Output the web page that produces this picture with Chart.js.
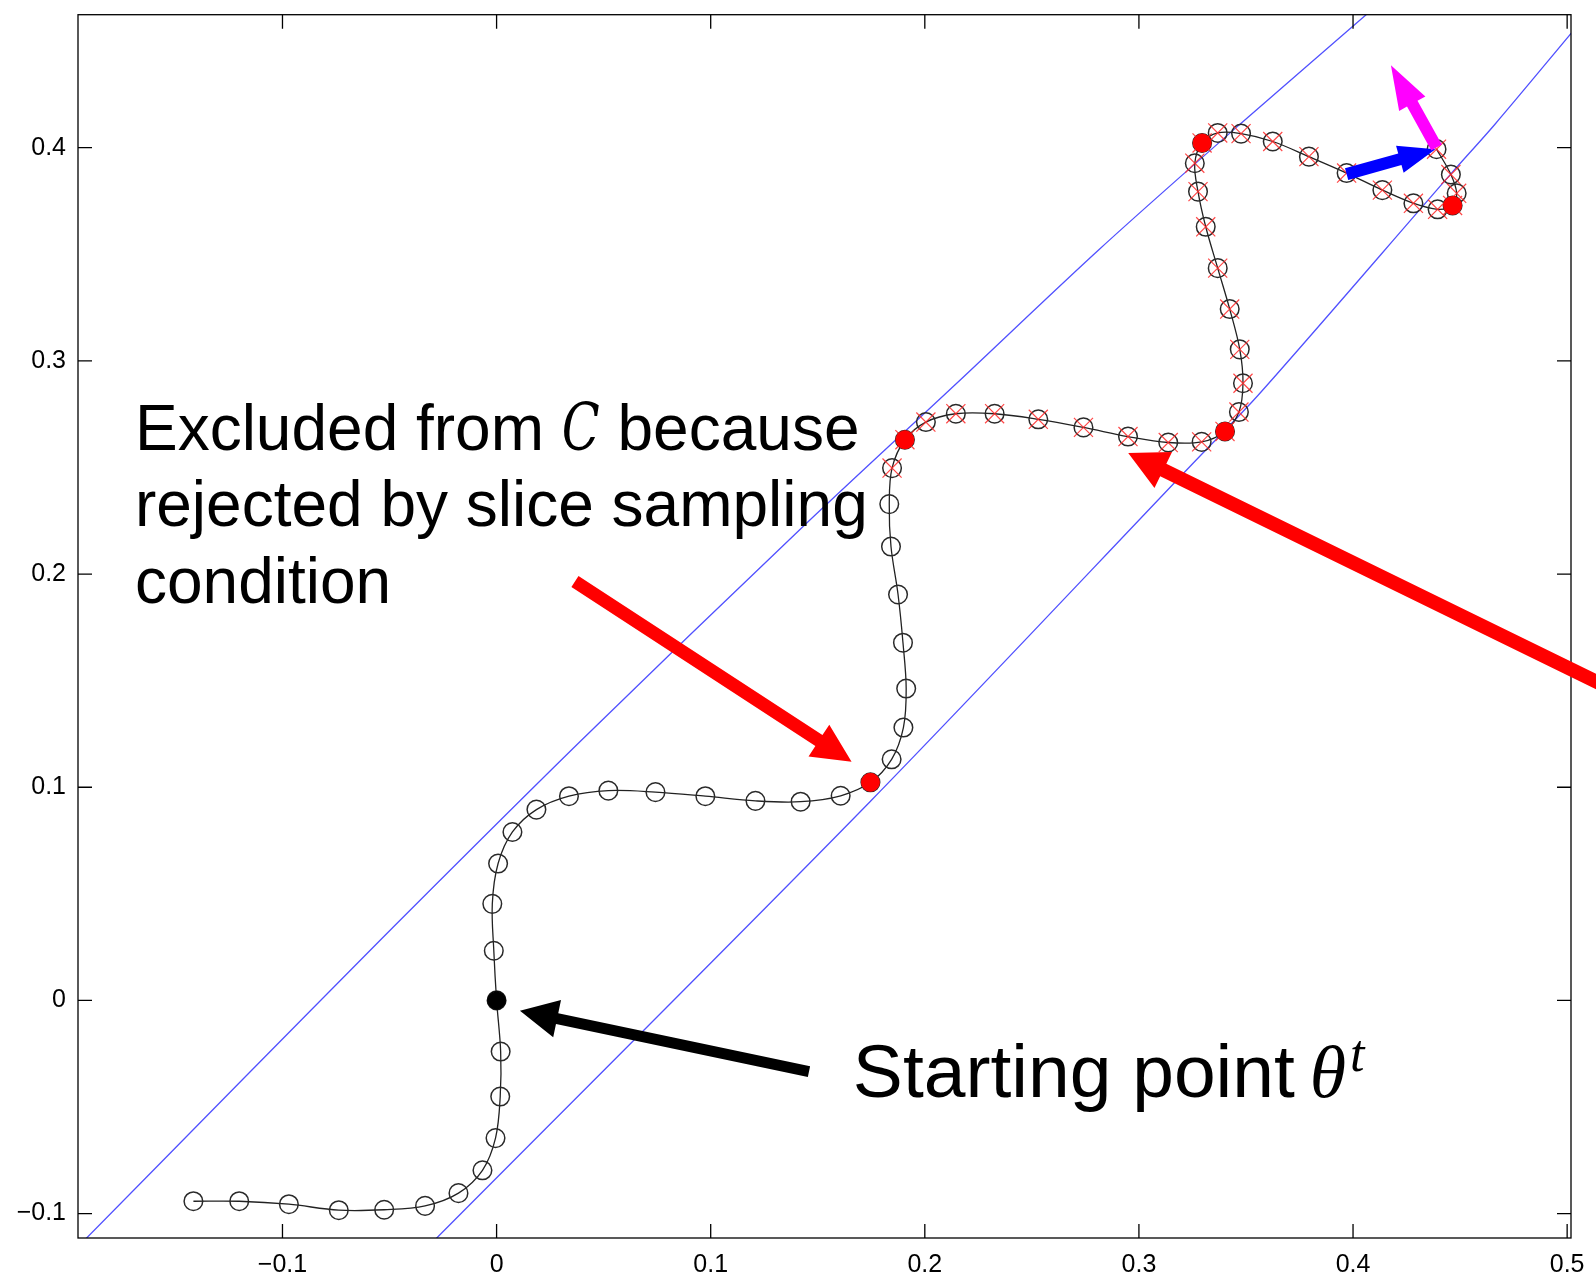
<!DOCTYPE html>
<html><head><meta charset="utf-8">
<script src="https://cdn.jsdelivr.net/npm/chart.js@4.4.1/dist/chart.umd.min.js"></script>
<style>html,body{margin:0;padding:0;background:#fff;overflow:hidden}#wrap{width:1596px;height:1279px}</style>
</head><body><div id="wrap"><canvas id="c" width="1596" height="1279"></canvas></div>
<script>
// ---- trajectory samples (x, y) in order ----
const pathX = [-0.1416,-0.1202,-0.0970,-0.0737,-0.0525,-0.0334,-0.0178,-0.0066,-0.0005,0.0017,0.0019,
  0.0000,-0.0013,-0.0020,0.0007,0.0074,0.0186,0.0338,0.0522,0.0742,0.0975,0.1209,0.1420,0.1607,
  0.1746,0.1845,0.1900,0.1913,0.1898,0.1875,0.1842,0.1834,0.1847,0.1907,
  0.2005,0.2145,0.2326,0.2530,0.2741,0.2949,0.3137,0.3293,0.3402,
  0.3467,0.3486,0.3471,0.3424,0.3368,0.3312,0.3276,0.3261,0.3295,
  0.3368,0.3477,0.3625,0.3794,0.3970,0.4137,0.4282,0.4395,0.4465,0.4484,0.4457,0.4390];
const pathY = [-0.0942,-0.0942,-0.0956,-0.0984,-0.0982,-0.0964,-0.0904,-0.0797,-0.0646,-0.0451,-0.0240,
  0.0000,0.0233,0.0453,0.0642,0.0790,0.0895,0.0958,0.0984,0.0977,0.0958,0.0936,0.0932,0.0960,
  0.1023,0.1131,0.1280,0.1463,0.1678,0.1904,0.2129,0.2328,0.2497,0.2630,
  0.2713,0.2752,0.2752,0.2726,0.2688,0.2645,0.2617,0.2620,0.2669,
  0.2760,0.2895,0.3054,0.3243,0.3435,0.3629,0.3794,0.3927,0.4022,
  0.4069,0.4066,0.4029,0.3958,0.3881,0.3801,0.3739,0.3711,0.3729,0.3786,0.3874,0.3993];
// o = open circle, s = starting point, r = red dot (excluded), x = crossed (rejected), R = red dot with cross
const pathKind = ['o','o','o','o','o','o','o','o','o','o','o',
  's','o','o','o','o','o','o','o','o','o','o','o','o',
  'r','o','o','o','o','o','o','o','x','R',
  'x','x','x','x','x','x','x','x','R',
  'x','x','x','x','x','x','x','x','R',
  'x','x','x','x','x','x','x','x','R','x','x','x'];

// ---- slice boundary curves ----
const upperX = [-0.1930,-0.1191,-0.0545,0.0389,0.1417,0.2149,0.2818,0.3472,0.4080];
const upperY = [-0.1130,-0.0376,0.0281,0.1213,0.2209,0.2895,0.3526,0.4110,0.4640];
const lowerX = [-0.0295,0.1744,0.3254,0.3565,0.4456,0.4663,0.5030];
const lowerY = [-0.1130,0.0932,0.2521,0.2848,0.3876,0.4110,0.4550];

// ---- axes ----
const xTicks = [-0.1,0,0.1,0.2,0.3,0.4,0.5];
const xTickLabels = ['\u22120.1','0','0.1','0.2','0.3','0.4','0.5'];
const yTicks = [-0.1,0,0.1,0.2,0.3,0.4];
const yTickLabels = ['\u22120.1','0','0.1','0.2','0.3','0.4'];
const xRange = [-0.1955, 0.5018];
const yRange = [-0.11145, 0.46238];

// ---- annotation arrows: tail (x,y) -> tip (x,y) in data units ----
const arrowTailX = [0.0366, 0.5390, 0.1459, 0.3970, 0.4390];
const arrowTailY = [0.1965, 0.1371, -0.0334, 0.3876, 0.4001];
const arrowTipX  = [0.1658, 0.2950, 0.0109, 0.4385, 0.4177];
const arrowTipY  = [0.1119, 0.2568, -0.0049, 0.3993, 0.4387];

// ---- annotation texts ----
const noteExcluded = ['Excluded from ', 'C', ' because', 'rejected by slice sampling', 'condition'];
const noteExcludedAt = [-0.1689, 0.2582];
const noteStart = ['Starting point ', '\u03b8', 't'];
const noteStartAt = [0.1664, -0.0453];

// styles (kept apart from data)
const arrowStyle = [
  {color:'#ff0000', shaft:13, headL:39, headW:19},
  {color:'#ff0000', shaft:14, headL:39, headW:20},
  {color:'#000000', shaft:11, headL:38, headW:19},
  {color:'#0000ff', shaft:12, headL:37, headW:14},
  {color:'#ff00ff', shaft:12, headL:44, headW:15}
];

const pts = (xs, ys) => xs.map((x,i)=>({x, y: ys[i]}));
const pick = (kinds) => pathX.map((x,i)=>({x, y:pathY[i], k:pathKind[i]})).filter(p=>kinds.includes(p.k)).map(p=>({x:p.x,y:p.y}));

function drawArrow(ctx, x1, y1, x2, y2, st) {
  const dx = x2-x1, dy = y2-y1, len = Math.hypot(dx,dy);
  const ux = dx/len, uy = dy/len, nx = -uy, ny = ux;
  const bx = x2 - ux*st.headL, by = y2 - uy*st.headL;
  const s = st.shaft/2, h = st.headW;
  ctx.beginPath();
  ctx.moveTo(x1+nx*s, y1+ny*s);
  ctx.lineTo(bx+nx*s, by+ny*s);
  ctx.lineTo(bx+nx*h, by+ny*h);
  ctx.lineTo(x2, y2);
  ctx.lineTo(bx-nx*h, by-ny*h);
  ctx.lineTo(bx-nx*s, by-ny*s);
  ctx.lineTo(x1-nx*s, y1-ny*s);
  ctx.closePath();
  ctx.fillStyle = st.color;
  ctx.fill();
}

const framePlugin = {
  id: 'frame',
  afterDraw(chart) {
    const {ctx, chartArea: a, scales: {x: xs, y: ys}} = chart;
    ctx.save();
    ctx.strokeStyle = '#000';
    ctx.lineWidth = 1.3;
    ctx.strokeRect(a.left, a.top, a.right - a.left, a.bottom - a.top);
    const tl = 14;
    ctx.beginPath();
    xTicks.forEach(v => {
      const p = xs.getPixelForValue(v);
      ctx.moveTo(p, a.bottom); ctx.lineTo(p, a.bottom - tl);
      ctx.moveTo(p, a.top); ctx.lineTo(p, a.top + tl);
    });
    yTicks.forEach(v => {
      const p = ys.getPixelForValue(v);
      ctx.moveTo(a.left, p); ctx.lineTo(a.left + tl, p);
      ctx.moveTo(a.right, p); ctx.lineTo(a.right - tl, p);
    });
    ctx.stroke();

    // arrows
    for (let i = 0; i < arrowTailX.length; i++) {
      drawArrow(ctx, xs.getPixelForValue(arrowTailX[i]), ys.getPixelForValue(arrowTailY[i]),
        xs.getPixelForValue(arrowTipX[i]), ys.getPixelForValue(arrowTipY[i]), arrowStyle[i]);
    }

    // texts
    ctx.fillStyle = '#000';
    ctx.textBaseline = 'alphabetic';
    ctx.textAlign = 'left';
    const sans = '64px "Liberation Sans", Arial, sans-serif';
    let x0 = xs.getPixelForValue(noteExcludedAt[0]);
    let y0 = ys.getPixelForValue(noteExcludedAt[1]);
    ctx.font = sans;
    ctx.fillText(noteExcluded[0], x0, y0);
    let w = ctx.measureText(noteExcluded[0]).width;
    ctx.font = 'italic 62px "DejaVu Serif", "Liberation Serif", serif';
    ctx.save();
    ctx.translate(x0 + w, y0);
    ctx.scale(0.8, 1.05);
    ctx.fillText(noteExcluded[1], 0, 0);
    ctx.restore();
    w += ctx.measureText(noteExcluded[1]).width * 0.8;
    ctx.font = sans;
    ctx.fillText(noteExcluded[2], x0 + w, y0);
    ctx.fillText(noteExcluded[3], x0, y0 + 76.5);
    ctx.fillText(noteExcluded[4], x0, y0 + 153);

    x0 = xs.getPixelForValue(noteStartAt[0]);
    y0 = ys.getPixelForValue(noteStartAt[1]);
    ctx.font = '75px "Liberation Sans", Arial, sans-serif';
    ctx.fillText(noteStart[0], x0, y0);
    w = ctx.measureText(noteStart[0]).width;
    ctx.font = 'italic 74px "Liberation Serif", serif';
    ctx.fillText(noteStart[1], x0 + w - 6, y0);
    w += ctx.measureText(noteStart[1]).width - 2;
    ctx.font = 'italic 52px "Liberation Serif", serif';
    ctx.fillText(noteStart[2], x0 + w, y0 - 26);
    ctx.restore();
  }
};

Chart.defaults.font.family = '"Liberation Sans", Arial, sans-serif';
Chart.defaults.color = '#000';

new Chart(document.getElementById('c'), {
  type: 'scatter',
  data: {
    datasets: [
      { data: pick(['s']), pointStyle:'circle', pointRadius:9, pointBackgroundColor:'#000', pointBorderColor:'#000', pointBorderWidth:1, showLine:false },
      { data: pick(['r','R']), pointStyle:'circle', pointRadius:9, pointBackgroundColor:'#ff0000', pointBorderColor:'#ff0000', pointBorderWidth:1, showLine:false },
      { data: pick(['x','R']), pointStyle:'crossRot', pointRadius:13.5, pointBorderColor:'rgba(255,40,40,0.85)', pointBorderWidth:1.2, showLine:false },
      { data: pts(pathX, pathY), showLine:true, borderColor:'#222', borderWidth:1.3, tension:0.35,
        pointStyle:'circle', pointRadius:9.3, pointBackgroundColor:'rgba(0,0,0,0)', pointBorderColor:'#2a2a2a', pointBorderWidth:1.5 },
      { data: pts(upperX, upperY), showLine:true, borderColor:'rgba(50,50,255,0.85)', borderWidth:1.3, tension:0.3, pointRadius:0 },
      { data: pts(lowerX, lowerY), showLine:true, borderColor:'rgba(50,50,255,0.85)', borderWidth:1.3, tension:0.3, pointRadius:0 }
    ]
  },
  options: {
    responsive: false,
    animation: false,
    devicePixelRatio: 1,
    layout: { padding: { left: 0, right: 25, top: 10, bottom: 0 } },
    plugins: { legend: { display:false }, tooltip: { enabled:false } },
    events: [],
    scales: {
      x: {
        type:'linear', min:xRange[0], max:xRange[1],
        grid: { display:false, drawTicks:false },
        border: { display:false },
        afterBuildTicks: s => { s.ticks = xTicks.map(v => ({value:v})); },
        ticks: { padding: 12, font:{ size:25 }, color:'#000', maxRotation:0, autoSkip:false,
                 callback: (v, i) => xTickLabels[i] },
        afterFit: s => { s.height = 41; s.paddingLeft = 0; s.paddingRight = 0; }
      },
      y: {
        type:'linear', min:yRange[0], max:yRange[1],
        grid: { display:false, drawTicks:false },
        border: { display:false },
        afterBuildTicks: s => { s.ticks = yTicks.map(v => ({value:v})); },
        ticks: { padding: 12, font:{ size:25 }, color:'#000', autoSkip:false,
                 callback: (v, i) => yTickLabels[i] },
        afterFit: s => { s.width = 78; s.paddingTop = 0; s.paddingBottom = 0; }
      }
    }
  },
  plugins: [framePlugin]
});
</script>
</body></html>
